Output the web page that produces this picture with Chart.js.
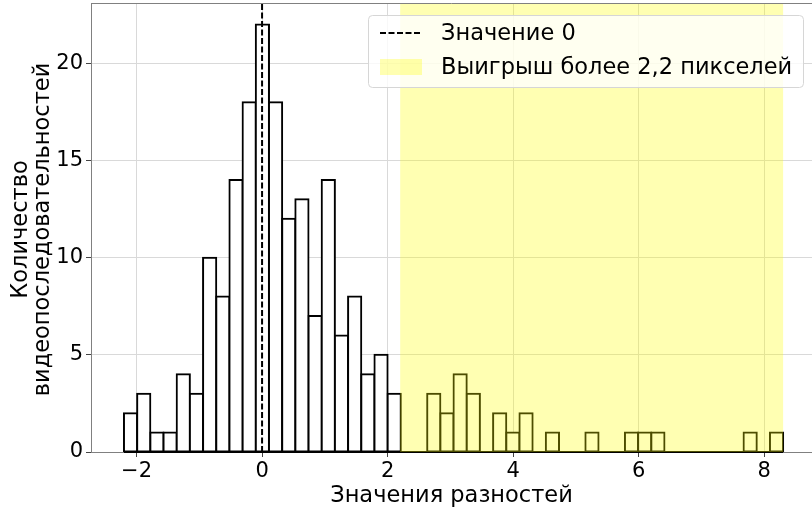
<!DOCTYPE html>
<html>
<head>
<meta charset="utf-8">
<script src="https://cdn.jsdelivr.net/npm/chart.js@4.4.1/dist/chart.umd.min.js"></script>
<style>
  html, body { margin: 0; padding: 0; background: #fff; }
</style>
</head>
<body>
<canvas id="histChart" width="812" height="510"></canvas>
<script>
// гистограмма: 50 бинов шириной 0.21, начиная с -2.2
const binStart = -2.2;
const binWidth = 0.21;
const counts = [2, 3, 1, 1, 4, 3, 10, 8, 14, 18,
                22, 18, 12, 13, 7, 14, 6, 8, 4, 5,
                3, 0, 0, 3, 2, 4, 3, 0, 2, 1,
                2, 0, 1, 0, 0, 1, 0, 0, 1, 1,
                1, 0, 0, 0, 0, 0, 0, 1, 0, 1];
const xTicks = [-2, 0, 2, 4, 6, 8];
const yTicks = [0, 5, 10, 15, 20];
const zeroValue = 0;
const spanFrom = 2.2;
const spanTo = 8.3;
const legendLabels = ['Значение 0', 'Выигрыш более 2,2 пикселей'];
const xTitle = 'Значения разностей';
const yTitle = ['Количество', 'видеопоследовательностей'];

const xMin = -2.725, xMax = 8.76;
const yMax = 23.1;
const FONT = '"DejaVu Sans", sans-serif';

const barData = counts.map((c, i) => ({ x: binStart + binWidth * (i + 0.5), y: c }));

// нижние кромки пустых бинов и жёлтая область поверх столбцов
const spanPlugin = {
    id: 'span',
    afterDatasetDraw(chart, args) {
        if (args.index !== 0) return;
        const { ctx, chartArea, scales } = chart;
        const y0 = scales.y.getPixelForValue(0);
        ctx.save();
        ctx.strokeStyle = '#000';
        ctx.lineWidth = 2;
        ctx.beginPath();
        ctx.moveTo(scales.x.getPixelForValue(binStart), y0);
        ctx.lineTo(scales.x.getPixelForValue(binStart + binWidth * counts.length), y0);
        ctx.stroke();

        const x1 = scales.x.getPixelForValue(spanFrom);
        const x2 = scales.x.getPixelForValue(spanTo);
        ctx.fillStyle = 'rgba(255, 255, 0, 0.3)';
        ctx.fillRect(x1, chartArea.top, x2 - x1, chartArea.bottom - chartArea.top);
        ctx.restore();
    }
};

// рамка сверху, подписи осей и легенда
const decorPlugin = {
    id: 'decor',
    afterDraw(chart) {
        const { ctx, chartArea } = chart;
        ctx.save();
        ctx.strokeStyle = '#808080';
        ctx.lineWidth = 1;
        ctx.beginPath();
        ctx.moveTo(chartArea.left, chartArea.top + 0.5);
        ctx.lineTo(chartArea.right, chartArea.top + 0.5);
        ctx.stroke();

        ctx.fillStyle = '#000';
        ctx.font = '22.5px ' + FONT;
        ctx.textAlign = 'center';
        ctx.textBaseline = 'alphabetic';
        ctx.fillText(xTitle, (chartArea.left + chartArea.right) / 2, 502);

        const cy = (chartArea.top + chartArea.bottom) / 2 + 2;
        ctx.translate(0, cy);
        ctx.rotate(-Math.PI / 2);
        ctx.fillText(yTitle[0], 0, 27);
        ctx.fillText(yTitle[1], 0, 49);
        ctx.setTransform(1, 0, 0, 1, 0, 0);

        // легенда
        const bx = 368, by = 15, bw = 435, bh = 72;
        ctx.beginPath();
        ctx.roundRect(bx + 0.5, by + 0.5, bw, bh, 4);
        ctx.fillStyle = 'rgba(255, 255, 255, 0.8)';
        ctx.fill();
        ctx.strokeStyle = '#d6d6d6';
        ctx.stroke();

        ctx.strokeStyle = '#000';
        ctx.lineWidth = 2;
        ctx.setLineDash([6, 2.5]);
        ctx.beginPath();
        ctx.moveTo(380, 33);
        ctx.lineTo(422, 33);
        ctx.stroke();
        ctx.setLineDash([]);

        ctx.fillStyle = 'rgba(255, 255, 0, 0.3)';
        ctx.fillRect(380, 59, 42, 16);

        ctx.fillStyle = '#000';
        ctx.textAlign = 'left';
        ctx.textBaseline = 'middle';
        ctx.fillText(legendLabels[0], 441, 34);
        ctx.fillText(legendLabels[1], 441, 68);
        ctx.restore();
    }
};

const ctx = document.getElementById('histChart').getContext('2d');

new Chart(ctx, {
    type: 'bar',
    data: {
        datasets: [
            {
                type: 'bar',
                label: 'hist',
                data: barData,
                backgroundColor: '#ffffff',
                borderColor: '#000000',
                borderWidth: 2,
                borderSkipped: false,
                inflateAmount: 1,
                barPercentage: 1.0,
                categoryPercentage: 1.0,
                grouped: false
            },
            {
                type: 'line',
                label: legendLabels[0],
                data: [{ x: zeroValue, y: 0 }, { x: zeroValue, y: yMax }],
                borderColor: '#000000',
                borderWidth: 2,
                borderDash: [6, 2.5],
                pointRadius: 0,
                order: -1
            }
        ]
    },
    options: {
        responsive: false,
        animation: false,
        devicePixelRatio: 1,
        layout: { padding: { top: 3, right: 0, left: 0, bottom: 0 } },
        plugins: {
            legend: { display: false },
            tooltip: { enabled: false }
        },
        scales: {
            x: {
                type: 'linear',
                offset: false,
                min: xMin,
                max: xMax,
                afterFit: (s) => { s.height = 58; s.paddingLeft = 0; s.paddingRight = 0; },
                afterBuildTicks: (s) => { s.ticks = xTicks.map(v => ({ value: v })); },
                ticks: {
                    font: { family: FONT, size: 21 },
                    color: '#000',
                    padding: 2,
                    maxRotation: 0,
                    callback: (v) => String(v).replace('-', '\u2212')
                },
                grid: { offset: false, color: '#d9d9d9', tickColor: '#444', tickLength: 5, lineWidth: 1 },
                border: { color: '#808080', width: 1 }
            },
            y: {
                min: 0,
                max: yMax,
                afterFit: (s) => { s.width = 91; s.paddingTop = 0; s.paddingBottom = 0; },
                afterBuildTicks: (s) => { s.ticks = yTicks.map(v => ({ value: v })); },
                ticks: {
                    font: { family: FONT, size: 21 },
                    color: '#000',
                    padding: 3
                },
                grid: { color: '#d9d9d9', tickColor: '#444', tickLength: 5, lineWidth: 1 },
                border: { color: '#808080', width: 1 }
            }
        }
    },
    plugins: [spanPlugin, decorPlugin]
});
</script>
</body>
</html>
